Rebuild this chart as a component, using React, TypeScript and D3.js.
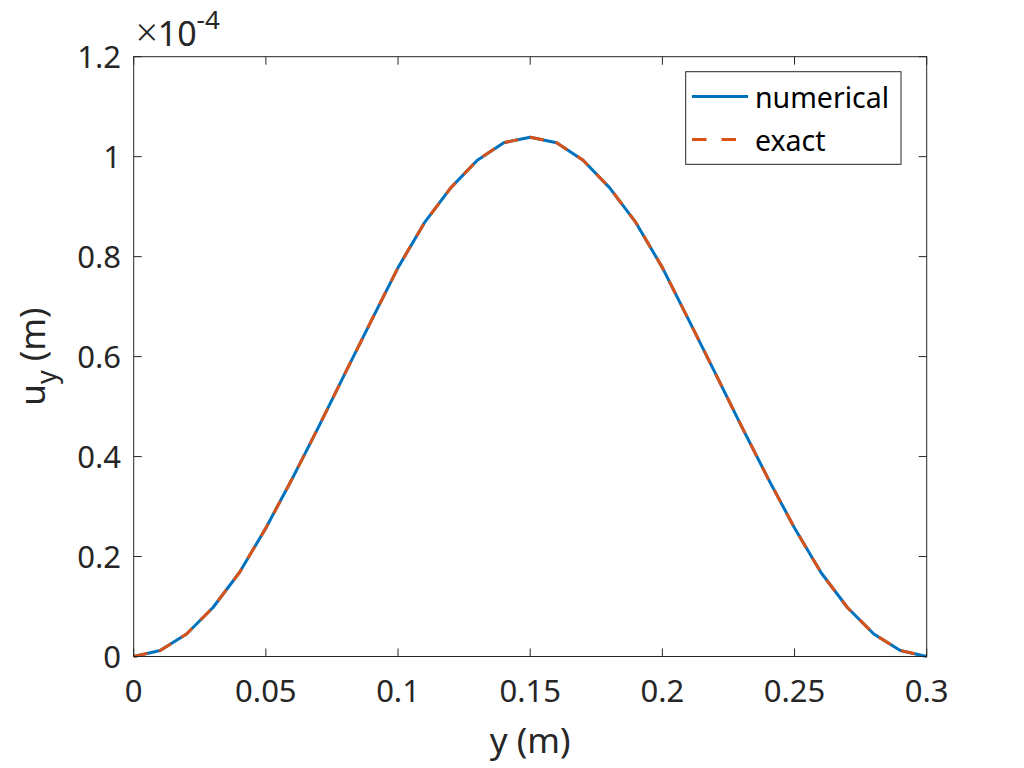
import * as d3 from "d3";

// position along y (m)
const positions = [
  0, 0.01, 0.02, 0.03, 0.04, 0.05, 0.06, 0.07, 0.08, 0.09, 0.1, 0.11, 0.12, 0.13, 0.14, 0.15,
  0.16, 0.17, 0.18, 0.19, 0.2, 0.21, 0.22, 0.23, 0.24, 0.25, 0.26, 0.27, 0.28, 0.29, 0.3,
];
// displacement u_y, in units of 1e-4 m
const numerical = [
  0, 0.012, 0.045, 0.098, 0.168, 0.257, 0.356, 0.46, 0.567, 0.673, 0.778, 0.868, 0.938, 0.993, 1.028, 1.039,
  1.028, 0.993, 0.938, 0.868, 0.778, 0.673, 0.567, 0.46, 0.356, 0.257, 0.168, 0.098, 0.045, 0.012, 0,
];
const exact = [
  0, 0.012, 0.045, 0.098, 0.168, 0.257, 0.356, 0.46, 0.567, 0.673, 0.778, 0.868, 0.938, 0.993, 1.028, 1.039,
  1.028, 0.993, 0.938, 0.868, 0.778, 0.673, 0.567, 0.46, 0.356, 0.257, 0.168, 0.098, 0.045, 0.012, 0,
];
const xTicks = [0, 0.05, 0.1, 0.15, 0.2, 0.25, 0.3];
const xTickLabels = ["0", "0.05", "0.1", "0.15", "0.2", "0.25", "0.3"];
const yTicks = [0, 0.2, 0.4, 0.6, 0.8, 1, 1.2];
const yTickLabels = ["0", "0.2", "0.4", "0.6", "0.8", "1", "1.2"];

const W = 1024;
const H = 768;
const left = 133.7;
const right = 926.7;
const top = 56.7;
const bottom = 656.5;
const ink = "#262626";
const blue = "#0072BD";
const orange = "#D95319";
const font = "'Noto Sans', 'Open Sans', sans-serif";

export default function App() {
  const x = d3.scaleLinear().domain([0, 0.3]).range([left, right]);
  const y = d3.scaleLinear().domain([0, 1.2]).range([bottom, top]);

  const line = d3
    .line<number>()
    .x((_, i) => x(positions[i]))
    .y((d) => y(d));

  const tickLen = 8;

  return (
    <svg
      width={W}
      height={H}
      style={{ position: "absolute", left: 0, top: 0, background: "#fff" }}
      fontFamily={font}
    >
      <rect x={0} y={0} width={W} height={H} fill="#fff" />

      {/* data */}
      <path d={line(numerical) ?? ""} fill="none" stroke={blue} strokeWidth={3} strokeLinejoin="round" />
      <path
        d={line(exact) ?? ""}
        fill="none"
        stroke={orange}
        strokeWidth={3}
        strokeDasharray="14,12"
        strokeLinejoin="round"
      />

      {/* box */}
      <rect x={left} y={top} width={right - left} height={bottom - top} fill="none" stroke={ink} strokeWidth={1} />

      {/* x ticks */}
      {xTicks.map((t, i) => (
        <g key={"x" + i}>
          <line x1={x(t)} x2={x(t)} y1={bottom} y2={bottom - tickLen} stroke={ink} />
          <line x1={x(t)} x2={x(t)} y1={top} y2={top + tickLen} stroke={ink} />
          <text x={x(t)} y={702} textAnchor="middle" fontSize={31} fill={ink}>
            {xTickLabels[i]}
          </text>
        </g>
      ))}

      {/* y ticks */}
      {yTicks.map((t, i) => (
        <g key={"y" + i}>
          <line x1={left} x2={left + tickLen} y1={y(t)} y2={y(t)} stroke={ink} />
          <line x1={right} x2={right - tickLen} y1={y(t)} y2={y(t)} stroke={ink} />
          <text x={121} y={y(t) + 11} textAnchor="end" fontSize={31} fill={ink}>
            {yTickLabels[i]}
          </text>
        </g>
      ))}

      {/* exponent */}
      <text x={136} y={46} fontSize={34} fill={ink}>
        <tspan fontSize={38} fontWeight={300}>×</tspan>10
        <tspan dy={-17} fontSize={26}>
          -4
        </tspan>
      </text>

      {/* axis labels */}
      <text x={(left + right) / 2} y={753} textAnchor="middle" fontSize={35} fill={ink}>
        y (m)
      </text>
      <text
        transform={`translate(45, ${(top + bottom) / 2}) rotate(-90)`}
        textAnchor="middle"
        fontSize={35}
        fill={ink}
      >
        u
        <tspan dy={11} fontSize={27}>
          y
        </tspan>
        <tspan dy={-11}> (m)</tspan>
      </text>

      {/* legend */}
      <rect x={685.7} y={71.7} width={215.3} height={92.6} fill="#fff" stroke={ink} strokeWidth={1} />
      <line x1={692} x2={748} y1={96.5} y2={96.5} stroke={blue} strokeWidth={3} />
      <text x={755} y={107.5} fontSize={28.5} fill="#000">
        numerical
      </text>
      <line x1={692} x2={748} y1={139.5} y2={139.5} stroke={orange} strokeWidth={3} strokeDasharray="14.5,15" />
      <text x={755} y={150.5} fontSize={28.5} fill="#000">
        exact
      </text>
    </svg>
  );
}
